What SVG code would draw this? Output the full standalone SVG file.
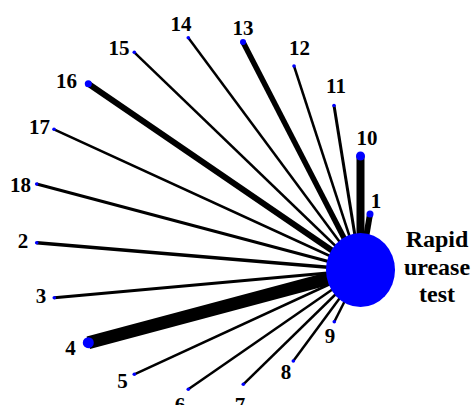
<svg xmlns="http://www.w3.org/2000/svg" width="474" height="405" viewBox="0 0 474 405">
<style>
.e{stroke:#000;stroke-linecap:butt;fill:none}
.n{fill:#0000FF}
.t{font-family:"Liberation Serif","Times New Roman",serif;font-weight:bold;font-size:21px;fill:#000;text-anchor:middle}
.big{font-size:24px}
</style>
<rect width="474" height="405" fill="#fff"/>
<g id="connectors">
<line class="e" x1="370" y1="214" x2="360.5" y2="270" stroke-width="6"/>
<line class="e" x1="360.5" y1="156" x2="360.5" y2="270" stroke-width="8"/>
<line class="e" x1="334" y1="105.5" x2="360.5" y2="270" stroke-width="3"/>
<line class="e" x1="294" y1="66" x2="360.5" y2="270" stroke-width="2.5"/>
<line class="e" x1="243" y1="42" x2="360.5" y2="270" stroke-width="5.5"/>
<line class="e" x1="188.3" y1="37.7" x2="360.5" y2="270" stroke-width="2.5"/>
<line class="e" x1="134.3" y1="52.3" x2="360.5" y2="270" stroke-width="2.5"/>
<line class="e" x1="88.3" y1="83.7" x2="360.5" y2="270" stroke-width="6"/>
<line class="e" x1="54" y1="129.3" x2="360.5" y2="270" stroke-width="2.5"/>
<line class="e" x1="36.7" y1="184" x2="360.5" y2="270" stroke-width="3"/>
<line class="e" x1="36.7" y1="242.7" x2="360.5" y2="270" stroke-width="3.5"/>
<line class="e" x1="54.3" y1="297.7" x2="360.5" y2="270" stroke-width="3"/>
<line class="e" x1="88.3" y1="342.7" x2="360.5" y2="270" stroke-width="13"/>
<line class="e" x1="134.3" y1="374.3" x2="360.5" y2="270" stroke-width="2.5"/>
<line class="e" x1="188.3" y1="389.3" x2="360.5" y2="270" stroke-width="2.5"/>
<line class="e" x1="243.3" y1="384.3" x2="360.5" y2="270" stroke-width="2.5"/>
<line class="e" x1="293.3" y1="361" x2="360.5" y2="270" stroke-width="2.5"/>
<line class="e" x1="334.3" y1="321.7" x2="360.5" y2="270" stroke-width="2.5"/>
</g>
<g id="node-rut"><ellipse class="n" cx="360.5" cy="270" rx="34.5" ry="37"/>
<text class="t big" x="437" y="247">Rapid</text><text class="t big" x="437" y="275">urease</text><text class="t big" x="437" y="302">test</text></g>
<g id="node-1"><circle class="n" cx="370" cy="214" r="3.5"/><text class="t" x="376" y="208">1</text></g>
<g id="node-10"><circle class="n" cx="360.5" cy="156" r="4.5"/><text class="t" x="367" y="145">10</text></g>
<g id="node-11"><circle class="n" cx="334" cy="105.5" r="1.8"/><text class="t" x="336" y="93">11</text></g>
<g id="node-12"><circle class="n" cx="294" cy="66" r="1.8"/><text class="t" x="299.5" y="55">12</text></g>
<g id="node-13"><circle class="n" cx="243" cy="42" r="3"/><text class="t" x="243" y="35">13</text></g>
<g id="node-14"><circle class="n" cx="188.3" cy="37.7" r="1.8"/><text class="t" x="181" y="31">14</text></g>
<g id="node-15"><circle class="n" cx="134.3" cy="52.3" r="1.8"/><text class="t" x="119" y="55">15</text></g>
<g id="node-16"><circle class="n" cx="88.3" cy="83.7" r="3.5"/><text class="t" x="66.5" y="88">16</text></g>
<g id="node-17"><circle class="n" cx="54" cy="129.3" r="1.8"/><text class="t" x="39.5" y="134">17</text></g>
<g id="node-18"><circle class="n" cx="36.7" cy="184" r="1.8"/><text class="t" x="20.5" y="192">18</text></g>
<g id="node-2"><circle class="n" cx="36.7" cy="242.7" r="1.8"/><text class="t" x="23" y="248">2</text></g>
<g id="node-3"><circle class="n" cx="54.3" cy="297.7" r="1.8"/><text class="t" x="41" y="303">3</text></g>
<g id="node-4"><circle class="n" cx="88.3" cy="342.7" r="5.5"/><text class="t" x="70.5" y="355">4</text></g>
<g id="node-5"><circle class="n" cx="134.3" cy="374.3" r="1.8"/><text class="t" x="122.5" y="388">5</text></g>
<g id="node-6"><circle class="n" cx="188.3" cy="389.3" r="1.8"/><text class="t" x="180" y="412">6</text></g>
<g id="node-7"><circle class="n" cx="243.3" cy="384.3" r="1.8"/><text class="t" x="240" y="412">7</text></g>
<g id="node-8"><circle class="n" cx="293.3" cy="361" r="1.8"/><text class="t" x="286" y="379">8</text></g>
<g id="node-9"><circle class="n" cx="334.3" cy="321.7" r="1.8"/><text class="t" x="330" y="343">9</text></g>
</svg>
